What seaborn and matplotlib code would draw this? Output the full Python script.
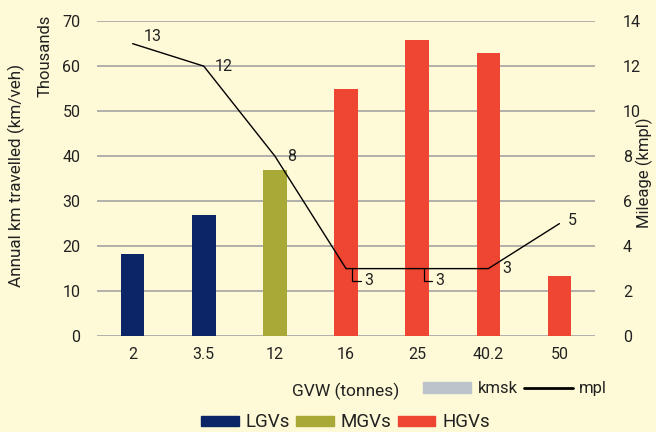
import numpy as np
import pandas as pd
import matplotlib
matplotlib.use("Agg")
import matplotlib.pyplot as plt
import seaborn as sns
from matplotlib.patches import Patch
from matplotlib.lines import Line2D

gvw = ["2", "3.5", "12", "16", "25", "40.2", "50"]
km_thousands = [18.2, 27.0, 37.0, 55.0, 65.8, 62.9, 13.3]
group = ["LGVs", "LGVs", "MGVs", "HGVs", "HGVs", "HGVs", "HGVs"]
mileage = [13, 12, 8, 3, 3, 3, 5]

bg = "#FEF9D6"
colors = {"LGVs": "#0B2566", "MGVs": "#A9A937", "HGVs": "#EF4533"}

sns.set_style("white")
plt.rcParams["font.family"] = ["Roboto", "DejaVu Sans"]

df = pd.DataFrame({"gvw": gvw, "km": km_thousands, "group": group})

fig = plt.figure(figsize=(6.56, 4.32), dpi=100, facecolor=bg)
ax = fig.add_axes([0.148, 0.222, 0.759, 0.729])
ax.set_facecolor(bg)

sns.barplot(data=df, x="gvw", y="km", hue="group", palette=colors,
            dodge=False, width=0.33, legend=False, ax=ax, saturation=1,
            linewidth=0)

ax.set_ylim(0, 70)
ax.set_yticks(range(0, 71, 10))
ax.set_xlim(-0.5, 6.5)
ax.yaxis.grid(True, color="#A3A3A3", lw=1.2)
ax.set_axisbelow(True)
for s in ax.spines.values():
    s.set_visible(False)
ax.tick_params(axis="both", length=0, labelsize=11.5, colors="#222222", pad=12)
ax.tick_params(axis="x", pad=8)
ax.set_ylabel("")
ax.set_xlabel("GVW (tonnes)", fontsize=12.5, color="#222222", labelpad=15)

fig.text(0.025, 0.593, "Annual km travelled (km/veh)", rotation=90,
         ha="center", va="center", fontsize=12.3, color="#222222")
fig.text(0.069, 0.87, "Thousands", rotation=90, ha="center", va="center",
         fontsize=12, color="#222222")

ax2 = ax.twinx()
ax2.set_ylim(0, 14)
ax2.set_yticks(range(0, 15, 2))
for s in ax2.spines.values():
    s.set_visible(False)
ax2.tick_params(axis="y", length=0, labelsize=11.5, colors="#222222", pad=20)
fig.text(0.982, 0.6, "Mileage (kmpl)", rotation=90, ha="center", va="center",
         fontsize=12, color="#222222")

xs = np.arange(len(gvw))
ax2.plot(xs, mileage, color="black", lw=1.0)

lab_kw = dict(fontsize=11.5, color="#222222", va="center", ha="left")
ax2.annotate("13", (0, 13), xytext=(8, 5), textcoords="offset points", **lab_kw)
ax2.annotate("12", (1, 12), xytext=(8, 0), textcoords="offset points", **lab_kw)
ax2.annotate("8", (2, 8), xytext=(9, 0), textcoords="offset points", **lab_kw)
for i in (3, 4):
    ax2.annotate("3", (i + 0.09, 3), xytext=(i + 0.26, 2.45), textcoords="data",
                 arrowprops=dict(arrowstyle="-", lw=0.9, color="black",
                                 shrinkA=0, shrinkB=0, relpos=(0, 0.5),
                                 connectionstyle="angle,angleA=0,angleB=90,rad=0"),
                 **lab_kw)
ax2.annotate("3", (5, 3), xytext=(10, 0), textcoords="offset points", **lab_kw)
ax2.annotate("5", (6, 5), xytext=(6, 2), textcoords="offset points", **lab_kw)

leg1 = fig.legend(handles=[Patch(color="#BCC3CB", label="kmsk"),
                           Line2D([0], [0], color="black", lw=2, label="mpl")],
                  loc="center", bbox_to_anchor=(0.785, 0.1), ncol=2, frameon=False,
                  fontsize=12, handlelength=2.9, handleheight=0.6,
                  handletextpad=0.4, columnspacing=0.4)
for t in leg1.get_texts():
    t.set_color("#222222")

fig.legend(handles=[Patch(color=colors[g], label=g) for g in ["LGVs", "MGVs", "HGVs"]],
           loc="center", bbox_to_anchor=(0.527, 0.022), ncol=3, frameon=False,
           fontsize=13.5, handlelength=2.0, handleheight=0.45,
           handletextpad=0.37, columnspacing=0.33, labelcolor="#222222")

fig.savefig("out.png", dpi=100, facecolor=bg)
